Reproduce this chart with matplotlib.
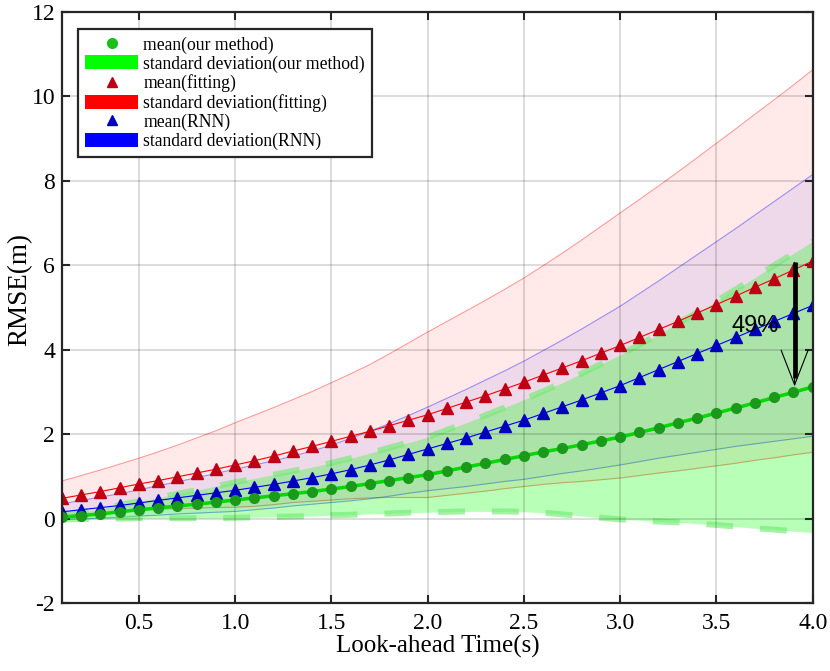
import numpy as np
import matplotlib
matplotlib.use("Agg")
import matplotlib.pyplot as plt
from matplotlib.lines import Line2D
from matplotlib.patches import Patch

# ---------------- data ----------------
t = [0.1, 0.2, 0.3, 0.4, 0.5, 0.6, 0.7, 0.8, 0.9, 1.0,
     1.1, 1.2, 1.3, 1.4, 1.5, 1.6, 1.7, 1.8, 1.9, 2.0,
     2.1, 2.2, 2.3, 2.4, 2.5, 2.6, 2.7, 2.8, 2.9, 3.0,
     3.1, 3.2, 3.3, 3.4, 3.5, 3.6, 3.7, 3.8, 3.9, 4.0]

ours_mean = [0.03, 0.07, 0.11, 0.16, 0.21, 0.25, 0.30, 0.34, 0.39, 0.44,
             0.49, 0.54, 0.59, 0.64, 0.70, 0.76, 0.83, 0.90, 0.97, 1.04,
             1.13, 1.22, 1.31, 1.40, 1.49, 1.58, 1.66, 1.75, 1.84, 1.93,
             2.04, 2.15, 2.27, 2.38, 2.50, 2.62, 2.74, 2.87, 2.99, 3.12]
ours_std = [0.05, 0.08, 0.12, 0.16, 0.20, 0.24, 0.29, 0.33, 0.38, 0.42,
            0.46, 0.50, 0.54, 0.58, 0.62, 0.67, 0.72, 0.78, 0.83, 0.89,
            0.97, 1.05, 1.14, 1.23, 1.33, 1.44, 1.56, 1.69, 1.82, 1.95,
            2.08, 2.22, 2.36, 2.50, 2.65, 2.81, 2.97, 3.13, 3.29, 3.45]

fit_mean = [0.48, 0.56, 0.64, 0.73, 0.82, 0.90, 0.99, 1.08, 1.17, 1.27,
            1.37, 1.48, 1.60, 1.71, 1.83, 1.95, 2.07, 2.20, 2.33, 2.46,
            2.61, 2.76, 2.91, 3.07, 3.23, 3.40, 3.57, 3.74, 3.92, 4.10,
            4.29, 4.48, 4.67, 4.87, 5.07, 5.27, 5.48, 5.68, 5.89, 6.10]
fit_std = [0.41, 0.46, 0.51, 0.56, 0.61, 0.68, 0.75, 0.83, 0.91, 1.00,
           1.08, 1.15, 1.22, 1.30, 1.39, 1.48, 1.58, 1.70, 1.83, 1.96,
           2.06, 2.16, 2.26, 2.36, 2.47, 2.59, 2.72, 2.86, 3.00, 3.14,
           3.27, 3.40, 3.54, 3.68, 3.82, 3.96, 4.10, 4.24, 4.38, 4.53]

rnn_mean = [0.16, 0.21, 0.26, 0.31, 0.37, 0.43, 0.49, 0.55, 0.61, 0.67,
            0.74, 0.81, 0.89, 0.97, 1.06, 1.16, 1.27, 1.39, 1.52, 1.65,
            1.78, 1.91, 2.05, 2.19, 2.33, 2.49, 2.65, 2.81, 2.98, 3.15,
            3.34, 3.53, 3.72, 3.91, 4.10, 4.29, 4.48, 4.67, 4.86, 5.05]
rnn_std = [0.19, 0.22, 0.25, 0.28, 0.31, 0.35, 0.38, 0.42, 0.46, 0.50,
           0.53, 0.56, 0.59, 0.63, 0.68, 0.74, 0.80, 0.86, 0.92, 0.99,
           1.07, 1.15, 1.23, 1.31, 1.40, 1.49, 1.58, 1.68, 1.78, 1.88,
           1.99, 2.10, 2.22, 2.34, 2.46, 2.58, 2.71, 2.84, 2.97, 3.10]

legend_labels = ["mean(our method)", "standard deviation(our method)",
                 "mean(fitting)", "standard deviation(fitting)",
                 "mean(RNN)", "standard deviation(RNN)"]
xticks = [0.5, 1.0, 1.5, 2.0, 2.5, 3.0, 3.5, 4.0]
yticks = [-2, 0, 2, 4, 6, 8, 10, 12]

arrow_x = 3.906
arrow_top = 6.07
arrow_tip = 3.13
pct_text = "49%"
pct_pos = (3.70, 4.57)

# ---------------- plotting ----------------
plt.rcParams['font.family'] = ['Liberation Serif', 'DejaVu Serif']

fig = plt.figure(figsize=(8.3, 6.71), dpi=100)
ax = fig.add_axes([62/830, 1-603/671, (812.7-62)/830, (603-12)/671])

t_a = np.array(t)
om, osd = np.array(ours_mean), np.array(ours_std)
fm, fsd = np.array(fit_mean), np.array(fit_std)
rm, rsd = np.array(rnn_mean), np.array(rnn_std)

# bands
ax.fill_between(t_a, fm - fsd, fm + fsd, color=(1, 0, 0), alpha=0.085, lw=0, zorder=1)
ax.plot(t_a, fm + fsd, color=(1, 0, 0), alpha=0.4, lw=0.8, zorder=1.1)
ax.plot(t_a, fm - fsd, color=(1, 0, 0), alpha=0.4, lw=0.8, zorder=1.1)

ax.fill_between(t_a, rm - rsd, rm + rsd, color=(0, 0, 1), alpha=0.065, lw=0, zorder=1.2)
ax.plot(t_a, rm + rsd, color=(0, 0, 1), alpha=0.4, lw=0.8, zorder=1.3)
ax.plot(t_a, rm - rsd, color=(0, 0, 1), alpha=0.4, lw=0.8, zorder=1.3)

ax.fill_between(t_a, om - osd, om + osd, color=(0, 1, 0), alpha=0.28, lw=0, zorder=1.4)
for edge in (om + osd, om - osd):
    ax.plot(t_a, edge, color=(0.45, 0.92, 0.45), alpha=0.65, lw=4.3,
            dashes=(4.5, 4.5), solid_capstyle='butt', dash_capstyle='butt', zorder=1.5)

# means
ax.plot(t_a, fm, color=(1, 0, 0), lw=0.8, marker='^', ms=8,
        mfc=(0.75, 0.0, 0.08), mec=(0.75, 0.0, 0.08), zorder=3)
ax.plot(t_a, rm, color=(0, 0, 1), lw=0.8, marker='^', ms=8,
        mfc=(0.0, 0.0, 0.75), mec=(0.0, 0.0, 0.75), zorder=3)
ax.plot(t_a, om, color=(0, 0.85, 0), lw=2.5, marker='o', ms=7,
        mfc=(0.1, 0.6, 0.1), mec=(0.1, 0.6, 0.1), zorder=3.2)

# arrow
ax.plot([arrow_x, arrow_x], [arrow_top, arrow_tip + 0.2], color='k', lw=3.4,
        solid_capstyle='butt', zorder=4)
ax.annotate("", xy=(arrow_x, arrow_tip), xytext=(arrow_x, arrow_top),
            arrowprops=dict(arrowstyle='->, head_length=2.5, head_width=0.97',
                            color='k', lw=0.8, shrinkA=0, shrinkB=0), zorder=4)
ax.text(pct_pos[0], pct_pos[1], pct_text, fontsize=17, ha='center', va='center',
        family=['Liberation Sans', 'DejaVu Sans'], zorder=5)

# axes styling
ax.set_xlim(0.1, 4.0)
ax.set_ylim(-2, 12)
ax.set_xticks(xticks)
ax.set_xticklabels([f"{v:.1f}" for v in xticks])
ax.set_yticks(yticks)
ax.set_yticklabels([str(v) for v in yticks])
ax.tick_params(direction='in', length=6, width=1.5, top=True, right=True,
               labelsize=17, color='#262626')
ax.tick_params(axis='x', pad=7)
ax.tick_params(axis='y', pad=5)
for s in ax.spines.values():
    s.set_linewidth(1.6)
    s.set_color('#262626')
    s.set_zorder(6)
ax.set_axisbelow(False)
ax.grid(True, color='k', alpha=0.15, lw=1.3, zorder=5)

ax.set_xlabel("Look-ahead Time(s)", fontsize=18, labelpad=1)
ax.set_ylabel("RMSE(m)", fontsize=19.5)
ax.yaxis.set_label_coords(-0.039, 0.531)

handles = [
    Line2D([], [], ls='none', marker='o', ms=7, mfc=(0.1, 0.75, 0.1), mec=(0.1, 0.75, 0.1)),
    Patch(facecolor=(0, 1, 0), edgecolor='none'),
    Line2D([], [], ls='none', marker='^', ms=7.5, mfc=(0.75, 0.0, 0.08), mec=(0.75, 0.0, 0.08)),
    Patch(facecolor=(1, 0, 0), edgecolor='none'),
    Line2D([], [], ls='none', marker='^', ms=7.5, mfc=(0.0, 0.0, 0.75), mec=(0.0, 0.0, 0.75)),
    Patch(facecolor=(0, 0, 1), edgecolor='none'),
]
leg = ax.legend(handles, legend_labels, loc='upper left',
                bbox_to_anchor=(0.0213, 0.971), borderaxespad=0,
                fontsize=12.7, handlelength=3.0, handleheight=0.85,
                handletextpad=0.3, labelspacing=0.1, borderpad=0.4,
                fancybox=False, framealpha=1, edgecolor='#262626')
leg.get_frame().set_linewidth(1.6)
leg.set_zorder(10)

fig.savefig("out.png", dpi=100)
